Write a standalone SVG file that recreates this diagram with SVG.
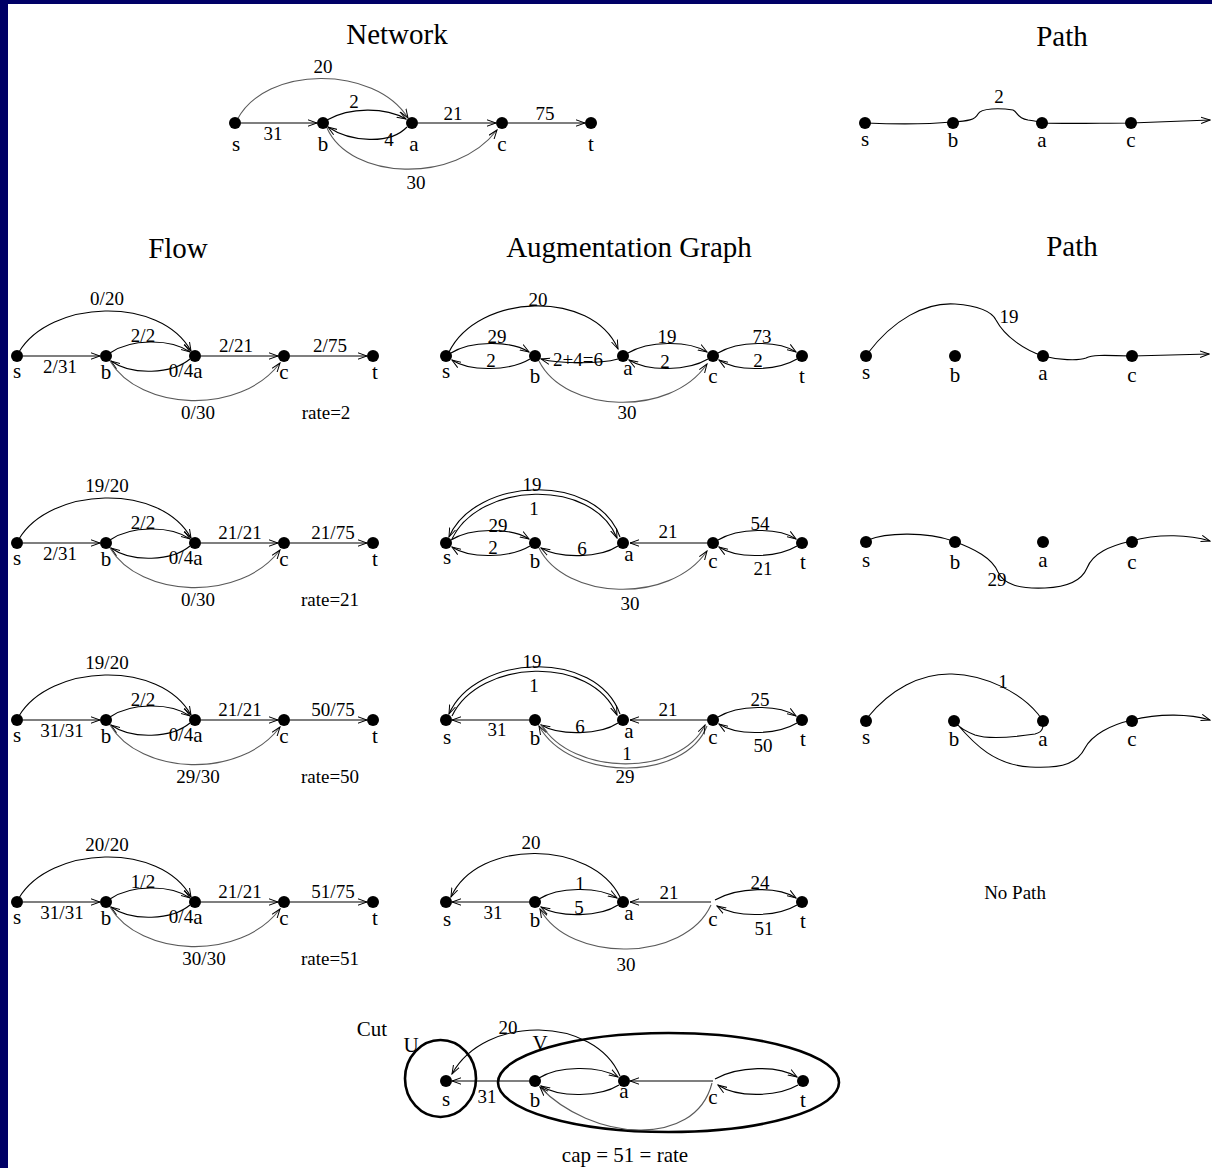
<svg xmlns="http://www.w3.org/2000/svg" width="1212" height="1168" viewBox="0 0 1212 1168">
<defs>
  <marker id="ah" markerWidth="10" markerHeight="8" refX="9" refY="4" orient="auto" markerUnits="userSpaceOnUse">
    <path d="M0,0.8 L9,4 L0,7.2" fill="none" stroke="#000" stroke-width="1"/>
  </marker>
  <style>
    .e{fill:none;stroke:#000;stroke-width:1.1;marker-end:url(#ah)}
    .g{stroke:#5a5a5a}
    .d{fill:#000}
    text{font-family:"Liberation Serif","Times New Roman",serif;fill:#000;text-anchor:middle}
    .l{font-size:19px}
    .n{font-size:21px}
    .t{font-size:29px}
    .ring{fill:none;stroke:#000;stroke-width:2.6}
  </style>
</defs>

<!-- frame -->
<rect width="1212" height="1168" fill="#000066"/>
<rect x="8" y="4" width="1204" height="1164" fill="#fff"/>

<!-- titles -->
<g id="titles">
  <text class="t" x="397" y="44">Network</text>
  <text class="t" x="1062" y="46">Path</text>
  <text class="t" x="178" y="258">Flow</text>
  <text class="t" x="629" y="257">Augmentation Graph</text>
  <text class="t" x="1072" y="256">Path</text>
</g>

<!-- ===== Network ===== -->
<g id="network">
  <g id="network-edges">
    <path class="e" d="M241,123 L317,123"/>
    <path class="e g" d="M237,120 C265,65 375,65 408,118"/>
    <path class="e" d="M327,120 C350,107 385,107 406,119"/>
    <path class="e" d="M407,127 C390,145 350,142 328,127"/>
    <path class="e" d="M418,123 L496,123"/>
    <path class="e" d="M508,123 L585,123"/>
    <path class="e g" d="M327,128 C350,180 455,185 497,130"/>
    <text class="l" x="323" y="73">20</text>
    <text class="l" x="273" y="140">31</text>
    <text class="l" x="354" y="108">2</text>
    <text class="l" x="389" y="146">4</text>
    <text class="l" x="453" y="120">21</text>
    <text class="l" x="545" y="120">75</text>
    <text class="l" x="416" y="189">30</text>
  </g>
  <g id="network-s"><circle class="d" cx="235" cy="123" r="6"/><text class="n" x="236" y="151">s</text></g>
  <g id="network-b"><circle class="d" cx="323" cy="123" r="6"/><text class="n" x="323" y="151">b</text></g>
  <g id="network-a"><circle class="d" cx="412" cy="123" r="6"/><text class="n" x="414" y="151">a</text></g>
  <g id="network-c"><circle class="d" cx="502" cy="123" r="6"/><text class="n" x="502" y="151">c</text></g>
  <g id="network-t"><circle class="d" cx="591" cy="123" r="6"/><text class="n" x="591" y="151">t</text></g>
</g>

<!-- ===== Path 1 ===== -->
<g id="path1">
  <g id="path1-edges">
    <path class="e" d="M866,123 C890,124 930,124 952,122 C968,121 975,120 978,114 C981,108 1000,108 1013,110 C1018,112 1016,118 1028,120 C1035,121 1040,122 1042,123 C1070,124 1100,123 1131,123 L1210,120"/>
    <text class="l" x="999" y="103">2</text>
  </g>
  <g id="path1-s"><circle class="d" cx="865" cy="123" r="6"/><text class="n" x="865" y="146">s</text></g>
  <g id="path1-b"><circle class="d" cx="953" cy="123" r="6"/><text class="n" x="953" y="147">b</text></g>
  <g id="path1-a"><circle class="d" cx="1042" cy="123" r="6"/><text class="n" x="1042" y="147">a</text></g>
  <g id="path1-c"><circle class="d" cx="1131" cy="123" r="6"/><text class="n" x="1131" y="147">c</text></g>
</g>

<!-- ===== Flow rows (same layout, different values) ===== -->
<g id="flow1" transform="translate(0,356)">
  <g id="flow1-edges">
    <path class="e" d="M23,0 L100,0"/>
    <path class="e" d="M19,-4 C50,-56 160,-61 191,-5"/>
    <path class="e" d="M110,-3 C130,-17 170,-18 190,-4"/>
    <path class="e" d="M190,3 C172,18 132,20 111,5"/>
    <path class="e" d="M201,0 L278,0"/>
    <path class="e" d="M290,0 L367,0"/>
    <path class="e g" d="M110,5 C140,55 240,60 280,7"/>
    <text class="l" x="107" y="-51">0/20</text>
    <text class="l" x="143" y="-14">2/2</text>
    <text class="l" x="236" y="-4">2/21</text>
    <text class="l" x="330" y="-4">2/75</text>
    <text class="l" x="60" y="17">2/31</text>
    <text class="l" x="181" y="21">0/4</text>
    <text class="l" x="198" y="63">0/30</text>
    <text class="l" x="326" y="63">rate=2</text>
  </g>
  <g id="flow1-s"><circle class="d" cx="17" cy="0" r="6"/><text class="n" x="17" y="22">s</text></g>
  <g id="flow1-b"><circle class="d" cx="106" cy="0" r="6"/><text class="n" x="106" y="23">b</text></g>
  <g id="flow1-a"><circle class="d" cx="195" cy="0" r="6"/><text class="n" x="198" y="22">a</text></g>
  <g id="flow1-c"><circle class="d" cx="284" cy="0" r="6"/><text class="n" x="284" y="23">c</text></g>
  <g id="flow1-t"><circle class="d" cx="373" cy="0" r="6"/><text class="n" x="375" y="23">t</text></g>
</g>

<g id="flow2" transform="translate(0,543)">
  <g id="flow2-edges">
    <path class="e" d="M23,0 L100,0"/>
    <path class="e" d="M19,-4 C50,-56 160,-61 191,-5"/>
    <path class="e" d="M110,-3 C130,-17 170,-18 190,-4"/>
    <path class="e" d="M190,3 C172,18 132,20 111,5"/>
    <path class="e" d="M201,0 L278,0"/>
    <path class="e" d="M290,0 L367,0"/>
    <path class="e g" d="M110,5 C140,55 240,60 280,7"/>
    <text class="l" x="107" y="-51">19/20</text>
    <text class="l" x="143" y="-14">2/2</text>
    <text class="l" x="240" y="-4">21/21</text>
    <text class="l" x="333" y="-4">21/75</text>
    <text class="l" x="60" y="17">2/31</text>
    <text class="l" x="181" y="21">0/4</text>
    <text class="l" x="198" y="63">0/30</text>
    <text class="l" x="330" y="63">rate=21</text>
  </g>
  <g id="flow2-s"><circle class="d" cx="17" cy="0" r="6"/><text class="n" x="17" y="22">s</text></g>
  <g id="flow2-b"><circle class="d" cx="106" cy="0" r="6"/><text class="n" x="106" y="23">b</text></g>
  <g id="flow2-a"><circle class="d" cx="195" cy="0" r="6"/><text class="n" x="198" y="22">a</text></g>
  <g id="flow2-c"><circle class="d" cx="284" cy="0" r="6"/><text class="n" x="284" y="23">c</text></g>
  <g id="flow2-t"><circle class="d" cx="373" cy="0" r="6"/><text class="n" x="375" y="23">t</text></g>
</g>

<g id="flow3" transform="translate(0,720)">
  <g id="flow3-edges">
    <path class="e" d="M23,0 L100,0"/>
    <path class="e" d="M19,-4 C50,-56 160,-61 191,-5"/>
    <path class="e" d="M110,-3 C130,-17 170,-18 190,-4"/>
    <path class="e" d="M190,3 C172,18 132,20 111,5"/>
    <path class="e" d="M201,0 L278,0"/>
    <path class="e" d="M290,0 L367,0"/>
    <path class="e g" d="M110,5 C140,55 240,60 280,7"/>
    <text class="l" x="107" y="-51">19/20</text>
    <text class="l" x="143" y="-14">2/2</text>
    <text class="l" x="240" y="-4">21/21</text>
    <text class="l" x="333" y="-4">50/75</text>
    <text class="l" x="62" y="17">31/31</text>
    <text class="l" x="181" y="21">0/4</text>
    <text class="l" x="198" y="63">29/30</text>
    <text class="l" x="330" y="63">rate=50</text>
  </g>
  <g id="flow3-s"><circle class="d" cx="17" cy="0" r="6"/><text class="n" x="17" y="22">s</text></g>
  <g id="flow3-b"><circle class="d" cx="106" cy="0" r="6"/><text class="n" x="106" y="23">b</text></g>
  <g id="flow3-a"><circle class="d" cx="195" cy="0" r="6"/><text class="n" x="198" y="22">a</text></g>
  <g id="flow3-c"><circle class="d" cx="284" cy="0" r="6"/><text class="n" x="284" y="23">c</text></g>
  <g id="flow3-t"><circle class="d" cx="373" cy="0" r="6"/><text class="n" x="375" y="23">t</text></g>
</g>

<g id="flow4" transform="translate(0,902)">
  <g id="flow4-edges">
    <path class="e" d="M23,0 L100,0"/>
    <path class="e" d="M19,-4 C50,-56 160,-61 191,-5"/>
    <path class="e" d="M110,-3 C130,-17 170,-18 190,-4"/>
    <path class="e" d="M190,3 C172,18 132,20 111,5"/>
    <path class="e" d="M201,0 L278,0"/>
    <path class="e" d="M290,0 L367,0"/>
    <path class="e g" d="M110,5 C140,55 240,60 280,7"/>
    <text class="l" x="107" y="-51">20/20</text>
    <text class="l" x="143" y="-14">1/2</text>
    <text class="l" x="240" y="-4">21/21</text>
    <text class="l" x="333" y="-4">51/75</text>
    <text class="l" x="62" y="17">31/31</text>
    <text class="l" x="181" y="21">0/4</text>
    <text class="l" x="204" y="63">30/30</text>
    <text class="l" x="330" y="63">rate=51</text>
  </g>
  <g id="flow4-s"><circle class="d" cx="17" cy="0" r="6"/><text class="n" x="17" y="22">s</text></g>
  <g id="flow4-b"><circle class="d" cx="106" cy="0" r="6"/><text class="n" x="106" y="23">b</text></g>
  <g id="flow4-a"><circle class="d" cx="195" cy="0" r="6"/><text class="n" x="198" y="22">a</text></g>
  <g id="flow4-c"><circle class="d" cx="284" cy="0" r="6"/><text class="n" x="284" y="23">c</text></g>
  <g id="flow4-t"><circle class="d" cx="373" cy="0" r="6"/><text class="n" x="375" y="23">t</text></g>
</g>

<!-- ===== Augmentation graphs ===== -->
<g id="aug1" transform="translate(0,356)">
  <g id="aug1-edges">
    <path class="e" d="M449,-4 C478,-63 592,-67 618,-7"/>
    <path class="e" d="M451,-3 C470,-15 510,-16 529,-4"/>
    <path class="e" d="M530,3 C510,15 470,16 452,4"/>
    <path class="e" d="M618,3 C600,8 560,8 541,3"/>
    <path class="e" d="M628,-3 C648,-15 688,-16 707,-4"/>
    <path class="e" d="M708,3 C688,15 648,16 629,4"/>
    <path class="e" d="M718,-3 C738,-15 778,-16 796,-4"/>
    <path class="e" d="M797,3 C777,15 737,16 719,4"/>
    <path class="e g" d="M539,5 C565,57 670,62 707,8"/>
    <text class="l" x="538" y="-50">20</text>
    <text class="l" x="497" y="-13">29</text>
    <text class="l" x="491" y="11">2</text>
    <text class="l" x="578" y="10">2+4=6</text>
    <text class="l" x="667" y="-13">19</text>
    <text class="l" x="665" y="12">2</text>
    <text class="l" x="762" y="-13">73</text>
    <text class="l" x="758" y="11">2</text>
    <text class="l" x="627" y="63">30</text>
  </g>
  <g id="aug1-s"><circle class="d" cx="446" cy="0" r="6"/><text class="n" x="446" y="22">s</text></g>
  <g id="aug1-b"><circle class="d" cx="535" cy="0" r="6"/><text class="n" x="535" y="27">b</text></g>
  <g id="aug1-a"><circle class="d" cx="623" cy="0" r="6"/><text class="n" x="628" y="19">a</text></g>
  <g id="aug1-c"><circle class="d" cx="713" cy="0" r="6"/><text class="n" x="713" y="27">c</text></g>
  <g id="aug1-t"><circle class="d" cx="802" cy="0" r="6"/><text class="n" x="802" y="27">t</text></g>
</g>

<g id="aug2" transform="translate(0,543)">
  <g id="aug2-edges">
    <path class="e" d="M620,-6 C596,-72 475,-66 449,-6"/>
    <path class="e" d="M452,-4 C479,-61 592,-66 617,-5"/>
    <path class="e" d="M451,-3 C470,-15 510,-16 529,-4"/>
    <path class="e" d="M530,3 C510,15 470,16 452,4"/>
    <path class="e" d="M618,3 C600,15 560,16 541,5"/>
    <path class="e" d="M707,0 L630,0"/>
    <path class="e" d="M718,-3 C738,-15 778,-16 796,-4"/>
    <path class="e" d="M797,3 C777,15 737,16 719,4"/>
    <path class="e g" d="M539,5 C565,57 670,62 707,8"/>
    <text class="l" x="532" y="-52">19</text>
    <text class="l" x="534" y="-28">1</text>
    <text class="l" x="498" y="-11">29</text>
    <text class="l" x="493" y="11">2</text>
    <text class="l" x="582" y="12">6</text>
    <text class="l" x="668" y="-5">21</text>
    <text class="l" x="760" y="-13">54</text>
    <text class="l" x="763" y="32">21</text>
    <text class="l" x="630" y="67">30</text>
  </g>
  <g id="aug2-s"><circle class="d" cx="446" cy="0" r="6"/><text class="n" x="447" y="21">s</text></g>
  <g id="aug2-b"><circle class="d" cx="535" cy="0" r="6"/><text class="n" x="535" y="25">b</text></g>
  <g id="aug2-a"><circle class="d" cx="623" cy="0" r="6"/><text class="n" x="629" y="18">a</text></g>
  <g id="aug2-c"><circle class="d" cx="713" cy="0" r="6"/><text class="n" x="713" y="25">c</text></g>
  <g id="aug2-t"><circle class="d" cx="802" cy="0" r="6"/><text class="n" x="803" y="26">t</text></g>
</g>

<g id="aug3" transform="translate(0,720)">
  <g id="aug3-edges">
    <path class="e" d="M620,-6 C596,-72 475,-66 449,-6"/>
    <path class="e" d="M452,-4 C479,-61 592,-66 617,-5"/>
    <path class="e" d="M529,0 L452,0"/>
    <path class="e" d="M618,3 C600,15 560,16 541,5"/>
    <path class="e" d="M707,0 L630,0"/>
    <path class="e" d="M718,-3 C738,-15 778,-16 796,-4"/>
    <path class="e" d="M797,3 C777,15 737,16 719,4"/>
    <path class="e g" d="M707,6 C685,62 570,62 539,6"/>
    <path class="e g" d="M541,4 C572,57 680,57 705,5"/>
    <text class="l" x="532" y="-52">19</text>
    <text class="l" x="534" y="-28">1</text>
    <text class="l" x="497" y="16">31</text>
    <text class="l" x="580" y="13">6</text>
    <text class="l" x="668" y="-4">21</text>
    <text class="l" x="760" y="-14">25</text>
    <text class="l" x="763" y="32">50</text>
    <text class="l" x="627" y="40">1</text>
    <text class="l" x="625" y="63">29</text>
  </g>
  <g id="aug3-s"><circle class="d" cx="446" cy="0" r="6"/><text class="n" x="447" y="24">s</text></g>
  <g id="aug3-b"><circle class="d" cx="535" cy="0" r="6"/><text class="n" x="535" y="25">b</text></g>
  <g id="aug3-a"><circle class="d" cx="623" cy="0" r="6"/><text class="n" x="629" y="18">a</text></g>
  <g id="aug3-c"><circle class="d" cx="713" cy="0" r="6"/><text class="n" x="713" y="24">c</text></g>
  <g id="aug3-t"><circle class="d" cx="802" cy="0" r="6"/><text class="n" x="803" y="26">t</text></g>
</g>

<g id="aug4" transform="translate(0,902)">
  <g id="aug4-edges">
    <path class="e" d="M620,-5 C592,-62 478,-64 451,-5"/>
    <path class="e" d="M529,0 L452,0"/>
    <path class="e" d="M539,-3 C558,-15 598,-16 617,-4"/>
    <path class="e" d="M618,3 C600,15 560,16 541,5"/>
    <path class="e" d="M711,0 L630,0"/>
    <path class="e" d="M715,-2 C738,-15 778,-16 796,-4"/>
    <path class="e" d="M797,3 C777,15 737,16 717,4"/>
    <path class="e g" d="M711,3 C685,60 570,62 540,7"/>
    <text class="l" x="531" y="-53">20</text>
    <text class="l" x="493" y="17">31</text>
    <text class="l" x="580" y="-12">1</text>
    <text class="l" x="579" y="12">5</text>
    <text class="l" x="669" y="-3">21</text>
    <text class="l" x="760" y="-13">24</text>
    <text class="l" x="764" y="33">51</text>
    <text class="l" x="626" y="69">30</text>
  </g>
  <g id="aug4-s"><circle class="d" cx="446" cy="0" r="6"/><text class="n" x="447" y="24">s</text></g>
  <g id="aug4-b"><circle class="d" cx="535" cy="0" r="6"/><text class="n" x="535" y="25">b</text></g>
  <g id="aug4-a"><circle class="d" cx="623" cy="0" r="6"/><text class="n" x="629" y="18">a</text></g>
  <g id="aug4-c"><text class="n" x="713" y="24">c</text></g>
  <g id="aug4-t"><circle class="d" cx="802" cy="0" r="6"/><text class="n" x="803" y="26">t</text></g>
</g>

<!-- ===== Augmenting paths ===== -->
<g id="path2">
  <g id="path2-edges">
    <path class="e" d="M868,353 C893,320 925,302 955,304 C980,306 992,312 996,320 C1005,337 1025,350 1043,356 C1058,360 1078,361 1086,358 C1092,355 1100,355 1132,356 L1209,354"/>
    <text class="l" x="1009" y="323">19</text>
  </g>
  <g id="path2-s"><circle class="d" cx="866" cy="356" r="6"/><text class="n" x="866" y="379">s</text></g>
  <g id="path2-b"><circle class="d" cx="955" cy="356" r="6"/><text class="n" x="955" y="382">b</text></g>
  <g id="path2-a"><circle class="d" cx="1043" cy="356" r="6"/><text class="n" x="1043" y="380">a</text></g>
  <g id="path2-c"><circle class="d" cx="1132" cy="356" r="6"/><text class="n" x="1132" y="382">c</text></g>
</g>

<g id="path3">
  <g id="path3-edges">
    <path class="e" d="M868,540 C885,533 925,531 953,541 C975,549 992,558 998,572 C1004,585 1020,589 1045,588 C1070,587 1082,580 1087,568 C1093,553 1110,546 1131,541 C1160,533 1190,535 1210,541"/>
    <text class="l" x="997" y="586">29</text>
  </g>
  <g id="path3-s"><circle class="d" cx="866" cy="542" r="6"/><text class="n" x="866" y="567">s</text></g>
  <g id="path3-b"><circle class="d" cx="955" cy="542" r="6"/><text class="n" x="955" y="569">b</text></g>
  <g id="path3-a"><circle class="d" cx="1043" cy="542" r="6"/><text class="n" x="1043" y="567">a</text></g>
  <g id="path3-c"><circle class="d" cx="1132" cy="542" r="6"/><text class="n" x="1132" y="569">c</text></g>
</g>

<g id="path4">
  <g id="path4-edges">
    <path class="e" d="M868,717 C890,690 920,673 952,674 C985,675 1020,692 1038,714 C1046,724 1044,732 1035,734 C1015,737 990,740 975,735 C965,731 960,728 957,724 C975,745 995,765 1030,767 C1065,769 1078,762 1085,748 C1092,735 1110,725 1132,720 C1160,713 1190,714 1210,720"/>
    <text class="l" x="1003" y="688">1</text>
  </g>
  <g id="path4-s"><circle class="d" cx="866" cy="721" r="6"/><text class="n" x="866" y="744">s</text></g>
  <g id="path4-b"><circle class="d" cx="954" cy="721" r="6"/><text class="n" x="954" y="746">b</text></g>
  <g id="path4-a"><circle class="d" cx="1043" cy="721" r="6"/><text class="n" x="1043" y="746">a</text></g>
  <g id="path4-c"><circle class="d" cx="1132" cy="721" r="6"/><text class="n" x="1132" y="746">c</text></g>
</g>

<text class="l" x="1015" y="899">No Path</text>

<!-- ===== Cut ===== -->
<g id="cut">
  <ellipse class="ring" cx="440.5" cy="1078.5" rx="35.5" ry="38.5"/>
  <ellipse class="ring" cx="668.5" cy="1082.5" rx="170.5" ry="49.5"/>
  <g id="cut-edges">
    <path class="e" d="M620,1076 C595,1016 485,1014 452,1074"/>
    <path class="e" d="M529,1081 L452,1081"/>
    <path class="e" d="M539,1078 C558,1066 598,1065 618,1077"/>
    <path class="e" d="M619,1085 C600,1097 560,1098 541,1086"/>
    <path class="e" d="M713,1081 L630,1081"/>
    <path class="e" d="M715,1079 C738,1066 778,1065 797,1077"/>
    <path class="e" d="M798,1085 C777,1097 737,1098 718,1085"/>
    <path class="e g" d="M712,1083 C695,1150 590,1140 540,1087"/>
    <text class="l" x="508" y="1034">20</text>
    <text class="l" x="487" y="1103">31</text>
  </g>
  <g id="cut-s"><circle class="d" cx="446" cy="1081" r="6"/><text class="n" x="446" y="1106">s</text></g>
  <g id="cut-b"><circle class="d" cx="535" cy="1081" r="6"/><text class="n" x="535" y="1107">b</text></g>
  <g id="cut-a"><circle class="d" cx="624" cy="1081" r="6"/><text class="n" x="624" y="1098">a</text></g>
  <g id="cut-c"><text class="n" x="713" y="1104">c</text></g>
  <g id="cut-t"><circle class="d" cx="803" cy="1081" r="6"/><text class="n" x="803" y="1107">t</text></g>
  <text class="n" x="372" y="1036">Cut</text>
  <text class="n" x="411" y="1052">U</text>
  <text class="n" x="540" y="1050">V</text>
  <text class="n" x="625" y="1162">cap = 51 = rate</text>
</g>
</svg>
